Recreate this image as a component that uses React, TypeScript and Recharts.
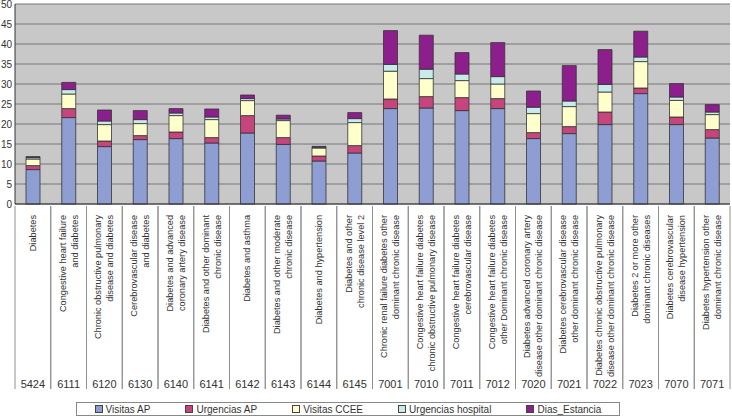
import { BarChart, Bar, XAxis, YAxis, CartesianGrid, Legend } from "recharts"

const CODES = [
  "5424", "6111", "6120", "6130", "6140", "6141", "6142", "6143", "6144", "6145",
  "7001", "7010", "7011", "7012", "7020", "7021", "7022", "7023", "7070", "7071",
]

const NAMES: string[][] = [
  ["Diabetes"],
  ["Congestive heart failure", "and diabetes"],
  ["Chronic obstructive pulmonary", "disease and diabetes"],
  ["Cerebrovascular disease", "and diabetes"],
  ["Diabetes and advanced", "coronary artery disease"],
  ["Diabetes and other dominant", "chronic disease"],
  ["Diabetes and asthma"],
  ["Diabetes and other moderate", "chronic disease"],
  ["Diabetes and hypertension"],
  ["Diabetes and other", "chronic disease level 2"],
  ["Chronic renal failure diabetes other", "dominant chronic disease"],
  ["Congestive heart failure diabetes", "chronic obstructive pulmonary disease"],
  ["Congestive heart failure diabetes", "cerebrovascular disease"],
  ["Congestive heart failure diabetes", "other Dominant chronic disease"],
  ["Diabetes advanced coronary artery", "disease other dominant chronic disease"],
  ["Diabetes cerebrovascular disease", "other dominant chronic disease"],
  ["Diabetes chronic obstructive pulmonary", "disease other dominant chronic disease"],
  ["Diabetes 2 or more other", "dominant chronic diseases"],
  ["Diabetes cerebrovascular", "disease hypertension"],
  ["Diabetes hypertension other", "dominant chronic disease"],
]

const VISITAS_AP = [8.6, 21.6, 14.35, 16.1, 16.35, 15.25, 17.75, 14.9, 10.75, 12.75, 23.85, 24.0, 23.35, 23.85, 16.35, 17.6, 19.85, 27.6, 19.85, 16.5]
const URGENCIAS_AP = [1.0, 2.25, 1.4, 1.0, 1.65, 1.35, 4.35, 1.7, 1.25, 1.85, 2.4, 2.85, 3.25, 2.5, 1.5, 1.75, 3.15, 1.4, 1.9, 2.1]
const VISITAS_CCEE = [1.65, 3.65, 4.1, 3.0, 4.1, 4.5, 3.75, 4.25, 2.0, 5.75, 6.95, 4.5, 4.25, 3.65, 4.75, 5.0, 5.0, 6.6, 4.15, 3.75]
const URGENCIAS_HOSP = [0.35, 1.1, 0.9, 1.0, 0.65, 0.65, 0.5, 0.4, 0.2, 1.0, 1.7, 2.35, 1.65, 1.85, 1.6, 1.4, 1.9, 1.15, 0.85, 0.65]
const DIAS_ESTANCIA = [0.25, 1.8, 2.75, 2.25, 1.1, 2.0, 0.9, 0.95, 0.2, 1.5, 8.45, 8.5, 5.35, 8.5, 4.05, 8.85, 8.7, 6.45, 3.35, 1.85]

const Y_TICKS = [0, 5, 10, 15, 20, 25, 30, 35, 40, 45, 50]

const SERIES = [
  { key: "visitasAP", name: "Visitas AP", color: "#8e9ed2" },
  { key: "urgenciasAP", name: "Urgencias AP", color: "#c5457c" },
  { key: "visitasCCEE", name: "Visitas CCEE", color: "#ffffcc" },
  { key: "urgenciasHosp", name: "Urgencias hospital", color: "#c9eaea" },
  { key: "diasEstancia", name: "Dias_Estancia", color: "#8c1f8c" },
]

const data = CODES.map((code, i) => ({
  code,
  visitasAP: VISITAS_AP[i],
  urgenciasAP: URGENCIAS_AP[i],
  visitasCCEE: VISITAS_CCEE[i],
  urgenciasHosp: URGENCIAS_HOSP[i],
  diasEstancia: DIAS_ESTANCIA[i],
}))

const FONT = "'Liberation Sans', Arial, sans-serif"
const BAND = (730 - 15) / CODES.length

function CategoryTick(props: any) {
  const { x, y, payload, index } = props
  const lines = NAMES[index] ?? []
  const top = y
  return (
    <g>
      <line x1={x - BAND / 2} y1={top} x2={x - BAND / 2} y2={389} stroke="#909090" />
      <line x1={x + BAND / 2} y1={top} x2={x + BAND / 2} y2={389} stroke="#909090" />
      {lines.map((line, i) => {
        const lx = x + (i - (lines.length - 1) / 2) * 12
        return (
          <text
            key={i}
            x={lx}
            y={top + 9}
            transform={`rotate(-90, ${lx}, ${top + 9})`}
            textAnchor="end"
            dominantBaseline="central"
            fontSize={9.2}
            fill="#333"
            fontFamily={FONT}
          >
            {line}
          </text>
        )
      })}
      <text x={x} y={384} textAnchor="middle" dominantBaseline="central" fontSize={11} fill="#333" fontFamily={FONT}>
        {payload.value}
      </text>
    </g>
  )
}

function LegendBox() {
  return (
    <div
      style={{
        width: 544,
        height: 14,
        border: "1px solid #888",
        background: "#fff",
        display: "flex",
        justifyContent: "space-around",
        alignItems: "center",
        fontFamily: FONT,
        fontSize: 10,
        color: "#333",
        boxSizing: "border-box",
      }}
    >
      {SERIES.map((s) => (
        <span key={s.key} style={{ display: "flex", alignItems: "center" }}>
          <span
            style={{
              display: "inline-block",
              width: 6,
              height: 6,
              background: s.color,
              border: "1px solid #444",
              marginRight: 3,
            }}
          />
          {s.name}
        </span>
      ))}
    </div>
  )
}

export default function App() {
  return (
    <div style={{ position: "fixed", left: 0, top: 0, width: 732, height: 416, background: "#fff" }}>
      {/* plot area background */}
      <div style={{ position: "absolute", left: 15, top: 4, width: 715, height: 200, background: "#c8c8c8" }} />
      <BarChart width={732} height={416} data={data} margin={{ top: 4, right: 2, left: 0, bottom: 0 }}>
        <CartesianGrid vertical={false} stroke="#777" strokeOpacity={1} />
        <XAxis
          dataKey="code"
          height={198}
          interval={0}
          tickLine={false}
          tickSize={0}
          axisLine={{ stroke: "#333" }}
          tick={<CategoryTick />}
        />
        <YAxis
          width={15}
          domain={[0, 50]}
          ticks={Y_TICKS}
          interval={0}
          tickLine={false}
          tickSize={0}
          tickMargin={3}
          axisLine={{ stroke: "#333" }}
          tick={{ fontSize: 10, fill: "#333", fontFamily: FONT }}
        />
        {SERIES.map((s) => (
          <Bar
            key={s.key}
            dataKey={s.key}
            name={s.name}
            stackId="a"
            barSize={14}
            fill={s.color}
            stroke="#333"
            strokeWidth={0.8}
            isAnimationActive={false}
          />
        ))}
        <Legend
          verticalAlign="bottom"
          content={<LegendBox />}
          wrapperStyle={{ left: 76, width: 544, height: 14, bottom: 0 }}
        />
      </BarChart>
    </div>
  )
}
